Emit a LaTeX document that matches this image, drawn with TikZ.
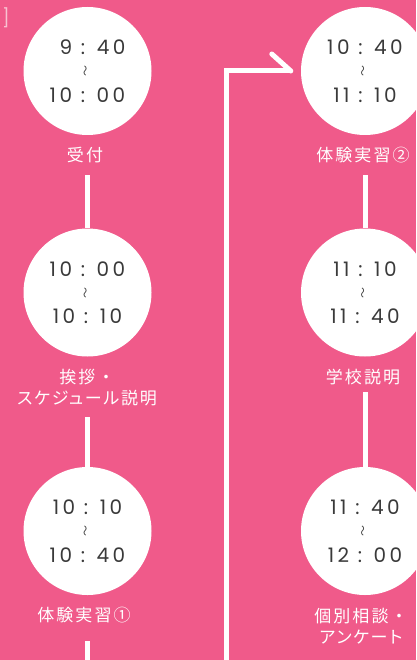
\documentclass[tikz,border=0pt]{standalone}
\usepackage{fontspec}
\newfontfamily\timefont[LetterSpace=17]{Poppins}
\newfontfamily\jpfont[LetterSpace=12]{Noto Sans CJK JP}
\newfontfamily\kanafont[LetterSpace=10,RawFeature=+palt]{Noto Sans CJK JP}
\newfontfamily\wavefont{Noto Sans CJK JP}
\definecolor{bg}{HTML}{F05A8A}
\definecolor{ink}{HTML}{3A3A3A}
\definecolor{faint}{HTML}{F8C2D2}
\tikzset{
  slot/.style={circle, fill=white, minimum size=128pt, inner sep=0pt},
  timetxt/.style={text=ink, font=\timefont\fontsize{20}{24}\selectfont, inner sep=0pt},
  wave/.style={text=ink, font=\wavefont\fontsize{11}{12}\selectfont, inner sep=0pt, rotate=90},
  lab/.style={text=white, font=\jpfont\fontsize{17}{21}\selectfont, align=center, inner sep=0pt},
  conn/.style={draw=white, line width=5pt},
}
\begin{document}
\begin{tikzpicture}[x=1pt,y=-1pt]
\useasboundingbox (0,0) rectangle (416,660);
\clip (0,0) rectangle (416,660);
\fill[bg] (0,0) rectangle (416,660);

\node[text=faint, font=\timefont\fontsize{18}{20}\selectfont, inner sep=0pt] (br) at (6,18) {]};

% left column
\node[slot] (c1) at (87.5,71) {};
\node[timetxt, yshift=23.5pt, xshift=5pt] (c1a) at (c1) {9 : 40};
\node[wave, yshift=1pt] (c1b) at (c1) {〜};
\node[timetxt, yshift=-24pt] (c1c) at (c1) {10 : 00};
\node[lab] (l1) at (85,155) {受付};

\node[slot] (c2) at (87.5,292.5) {};
\node[timetxt, yshift=23.5pt] (c2a) at (c2) {10 : 00};
\node[wave, yshift=1pt] (c2b) at (c2) {〜};
\node[timetxt, yshift=-24pt] (c2c) at (c2) {10 : 10};
\node[lab] (l2) at (87,387.5) {挨拶・\\{\kanafont スケジュール説明}};

\node[slot] (c3) at (87.5,531) {};
\node[timetxt, yshift=23.5pt] (c3a) at (c3) {10 : 10};
\node[wave, yshift=1pt] (c3b) at (c3) {〜};
\node[timetxt, yshift=-24pt] (c3c) at (c3) {10 : 40};
\node[lab] (l3) at (84,615) {体験実習①};

% right column
\node[slot] (c4) at (365,71) {};
\node[timetxt, yshift=23.5pt] (c4a) at (c4) {10 : 40};
\node[wave, yshift=1pt] (c4b) at (c4) {〜};
\node[timetxt, yshift=-24pt] (c4c) at (c4) {11 : 10};
\node[lab] (r1) at (363,155) {体験実習②};

\node[slot] (c5) at (365,292.5) {};
\node[timetxt, yshift=23.5pt] (c5a) at (c5) {11 : 10};
\node[wave, yshift=1pt] (c5b) at (c5) {〜};
\node[timetxt, yshift=-24pt] (c5c) at (c5) {11 : 40};
\node[lab] (r2) at (363,377) {学校説明};

\node[slot] (c6) at (365,531) {};
\node[timetxt, yshift=23.5pt] (c6a) at (c6) {11 : 40};
\node[wave, yshift=1pt] (c6b) at (c6) {〜};
\node[timetxt, yshift=-24pt] (c6c) at (c6) {12 : 00};
\node[lab] (r3) at (361,626) {個別相談・\\{\kanafont アンケート}};

% connectors
\coordinate (bot1) at (87.5,662);
\coordinate (bot2) at (226.5,662);
\draw[conn, shorten <=12pt] (l1.south -| c2.north) -- (c2.north);
\draw[conn, shorten <=11pt] (l2.south -| c3.north) -- (c3.north);
\draw[conn, shorten <=18pt] (l3.south -| bot1) -- (bot1);
\draw[conn, shorten <=12pt] (r1.south -| c5.north) -- (c5.north);
\draw[conn, shorten <=7pt] (r2.south -| c6.north) -- (c6.north);

% jump arrow to second column
\draw[conn] (bot2) |- ([xshift=-10pt]c4.west);
\draw[conn, line cap=round] ([xshift=-10pt]c4.west) -- ++(-19,-17);
\end{tikzpicture}
\end{document}
